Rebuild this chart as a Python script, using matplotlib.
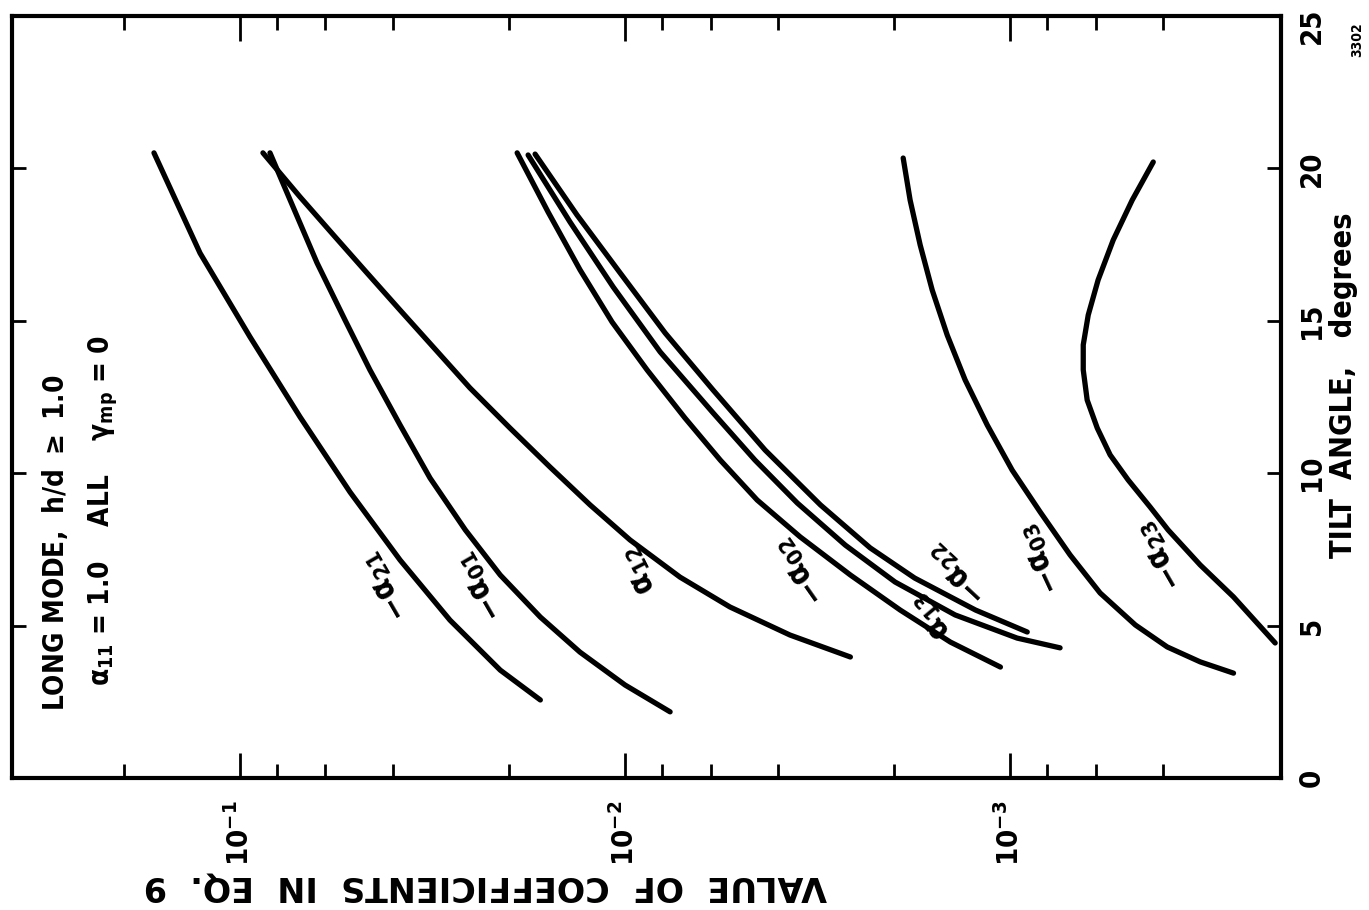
import matplotlib
matplotlib.use('Agg')
import matplotlib.pyplot as plt
from matplotlib import transforms
from matplotlib.ticker import FixedLocator, NullFormatter

# tilt angle (deg) and coefficient value
tilt_a21 = [20.51, 17.22, 14.47, 11.84, 9.38, 7.15, 5.18, 3.54, 2.56]
a21 = [0.1673, 0.1270, 0.0942, 0.0698, 0.0518, 0.0384, 0.0285, 0.0211, 0.0166]

tilt_a01 = [20.51, 18.96, 16.90, 15.03, 13.39, 11.58, 9.84, 8.14, 6.66, 5.28,
            4.13, 3.05, 2.17]
a01 = [0.0836, 0.0741, 0.0631, 0.0534, 0.0460, 0.0384, 0.0321, 0.0260, 0.0211,
       0.0166, 0.0131, 0.0100, 0.00764]

tilt_a12 = [20.51, 19.06, 17.75, 16.57, 15.35, 14.14, 12.80, 11.48, 10.20, 8.96,
            7.81, 6.59, 5.61, 4.69, 3.97]
a12 = [0.0872, 0.0698, 0.0566, 0.0468, 0.0384, 0.0315, 0.0253, 0.0199, 0.01566,
       0.01233, 0.00971, 0.00720, 0.00534, 0.00373, 0.00260]

tilt_a02 = [20.51, 18.57, 16.67, 14.96, 13.39, 11.81, 10.43, 9.12, 7.91, 6.66,
            5.51, 4.46, 3.64]
a02 = [0.01907, 0.01585, 0.01309, 0.01081, 0.00877, 0.00699, 0.00566, 0.00454,
       0.00351, 0.00260, 0.00193, 0.00143, 0.00106]

tilt_a13 = [20.44, 18.24, 16.11, 13.98, 11.98, 10.43, 9.02, 7.64, 6.43, 5.35,
            4.59, 4.27]
a13 = [0.01786, 0.01390, 0.01074, 0.00811, 0.00591, 0.00460, 0.00357, 0.00268,
       0.00199, 0.00139, 0.000959, 0.000742]

tilt_a22 = [20.47, 18.47, 16.57, 14.60, 12.73, 10.76, 8.96, 7.55, 6.56, 5.51,
            4.79]
a22 = [0.01713, 0.01333, 0.01030, 0.00787, 0.00591, 0.00433, 0.00311, 0.00231,
       0.00177, 0.00123, 0.000903]

tilt_a03 = [20.34, 18.96, 17.49, 16.01, 14.53, 13.06, 11.58, 10.10, 8.73, 7.32,
            6.07, 5.02, 4.30, 3.81, 3.44]
a03 = [0.001896, 0.001819, 0.001713, 0.001594, 0.001457, 0.001309, 0.001147,
       0.000988, 0.000836, 0.000699, 0.000584, 0.000473, 0.000391, 0.000321,
       0.000263]

tilt_a23 = [20.21, 18.96, 17.65, 16.34, 15.19, 14.21, 13.39, 12.40, 11.48, 10.60,
            9.78, 8.89, 8.14, 6.99, 5.94, 4.43]
a23 = [0.000425, 0.000482, 0.000540, 0.000591, 0.000627, 0.000646, 0.000646,
       0.000631, 0.000594, 0.000550, 0.000494, 0.000433, 0.000389, 0.000321,
       0.000263, 0.000205]

curves = [(a21, tilt_a21), (a01, tilt_a01), (a12, tilt_a12), (a02, tilt_a02),
          (a13, tilt_a13), (a22, tilt_a22), (a03, tilt_a03), (a23, tilt_a23)]

# curve labels: text, value, tilt, angle
labels = [(r'$-\alpha_{21}$', 0.0420, 6.3, 120),
          (r'$-\alpha_{01}$', 0.0238, 6.3, 120),
          (r'$\alpha_{12}$', 0.00924, 6.8, 117),
          (r'$-\alpha_{02}$', 0.00351, 6.8, 125),
          (r'$\alpha_{13}$', 0.00161, 5.3, 130),
          (r'$-\alpha_{22}$', 0.00137, 6.7, 137),
          (r'$-\alpha_{03}$', 0.000836, 7.2, 115),
          (r'$-\alpha_{23}$', 0.000407, 7.3, 120)]

major_vals = [1e-1, 1e-2, 1e-3]
major_text = [r'$10^{-1}$', r'$10^{-2}$', r'$10^{-3}$']
minor_vals = [0.2, 0.08, 0.06, 0.04, 0.02, 0.008, 0.006, 0.004, 0.002,
              0.0008, 0.0006, 0.0004]
tilt_ticks = [0, 5, 10, 15, 20, 25]

plt.rcParams['font.family'] = ['DejaVu Sans']
plt.rcParams['font.weight'] = 'bold'
plt.rcParams['font.stretch'] = 'condensed'
plt.rcParams['mathtext.fontset'] = 'custom'
plt.rcParams['mathtext.rm'] = 'DejaVu Sans:bold'
plt.rcParams['mathtext.it'] = 'DejaVu Sans:bold'
plt.rcParams['mathtext.bf'] = 'DejaVu Sans:bold'
plt.rcParams['mathtext.default'] = 'bf'

fig = plt.figure(figsize=(13.69, 9.10), dpi=100)
ax = fig.add_axes([12/1369, 1-778/910, 1269/1369, 762/910])

for vals, tilt in curves:
    ax.plot(vals, tilt, color='black', lw=3.8, solid_capstyle='round',
            solid_joinstyle='round')

for txt, v, t, rot in labels:
    ax.text(v, t, txt, rotation=rot, ha='center', va='center',
            fontsize=23, rotation_mode='anchor')

ax.set_xscale('log')
ax.set_xlim(0.391, 1.98e-4)
ax.set_ylim(0, 25)

ax.xaxis.set_major_locator(FixedLocator(major_vals))
ax.xaxis.set_minor_locator(FixedLocator(minor_vals))
ax.xaxis.set_minor_formatter(NullFormatter())
ax.set_xticklabels(major_text, rotation=90, fontsize=21)
ax.set_yticks(tilt_ticks)
ax.set_yticklabels([str(t) for t in tilt_ticks], rotation=90, fontsize=21,
                   va='center')

ax.tick_params(axis='x', which='major', direction='in', length=18, width=2,
               top=True, bottom=True, pad=16)
ax.tick_params(axis='x', which='minor', direction='in', length=10, width=2,
               top=True, bottom=True)
ax.tick_params(axis='y', direction='in', length=10, width=2, left=True,
               right=True, labelleft=False, labelright=True, pad=12)
for s in ax.spines.values():
    s.set_linewidth(3)

# nudge the top "25" label down so it stays inside the picture
lab25 = ax.get_yticklabels()[-1]
lab25.set_transform(lab25.get_transform() +
                    transforms.ScaledTranslation(0, -10/100, fig.dpi_scale_trans))

fig.text(55/1369, 1-543/910, r'LONG MODE,  h/d $\geq$ 1.0', rotation=90,
         ha='center', va='center', fontsize=20)
fig.text(103/1369, 1-510/910, r'$\alpha_{11}$ = 1.0    ALL    $\gamma_{mp}$ = 0',
         rotation=90, ha='center', va='center', fontsize=20)
fig.text(1343/1369, 1-385/910, 'TILT  ANGLE,   degrees', rotation=90,
         ha='center', va='center', fontsize=22)
fig.text(485/1369, 1-886/910, 'VALUE  OF  COEFFICIENTS  IN  EQ.  9', rotation=180,
         ha='center', va='center', fontsize=24, fontstretch='normal')
fig.text(1357/1369, 1-40/910, '3302', rotation=90, ha='center', va='center',
         fontsize=10)

fig.savefig('out.png', dpi=100)
